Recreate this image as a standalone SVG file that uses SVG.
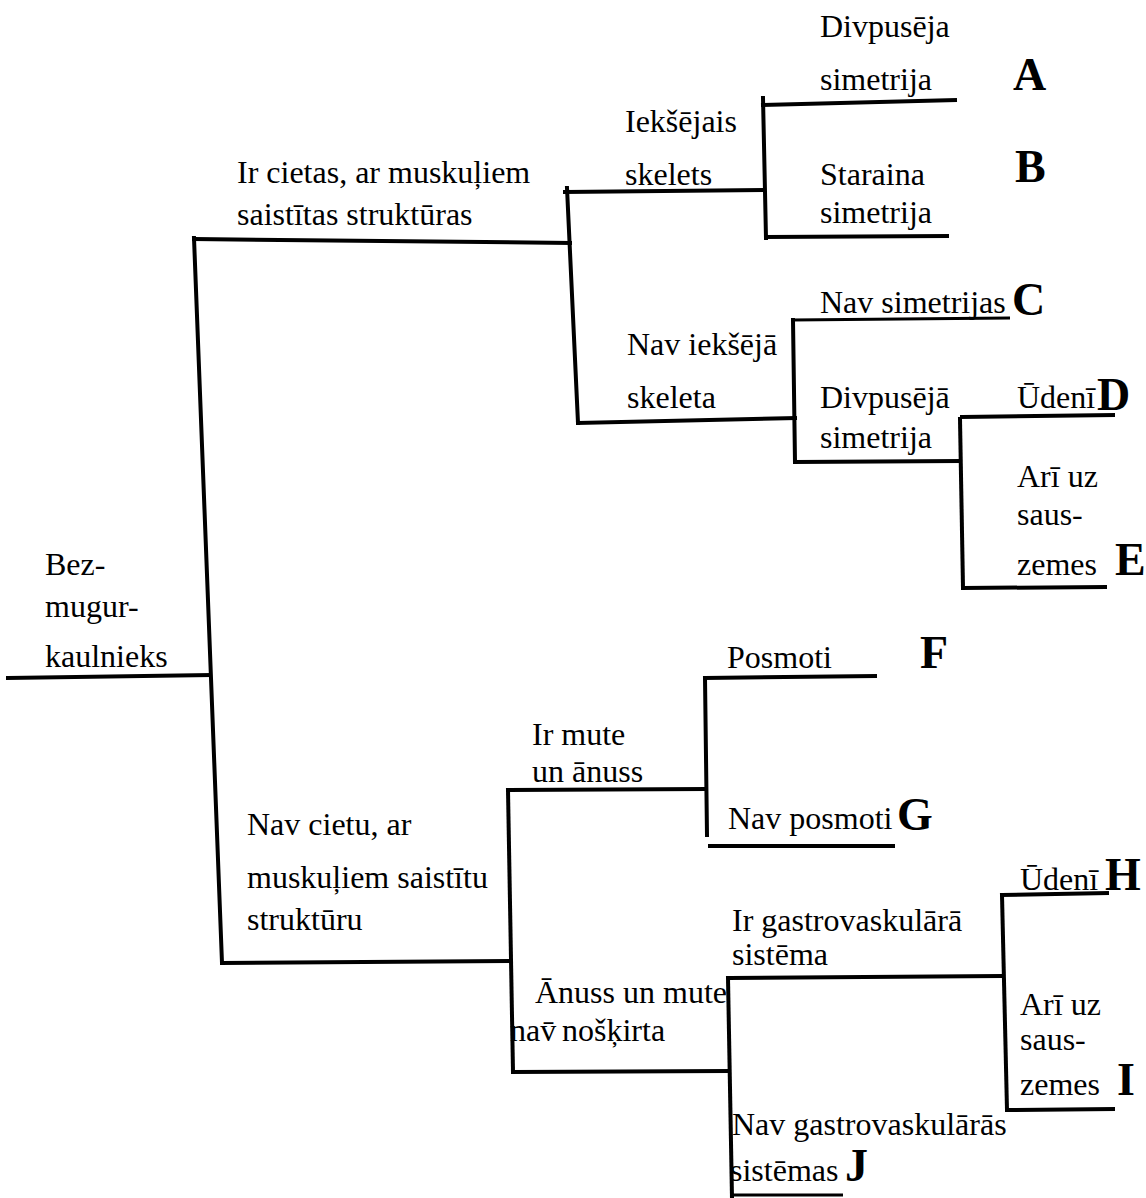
<svg xmlns="http://www.w3.org/2000/svg" width="1146" height="1198" viewBox="0 0 1146 1198">
<style>
  .t { font-family: "Liberation Serif", "Times New Roman", serif; font-size: 32px; fill: #000; }
  .k { font-family: "Liberation Serif", "Times New Roman", serif; font-size: 46px; font-weight: bold; fill: #000; }
  .ln { stroke: #000; stroke-width: 4; fill: none; stroke-linecap: square; stroke-linejoin: miter; }
  .th { stroke: #000; stroke-width: 3; fill: none; }
</style>
<rect x="0" y="0" width="1146" height="1198" fill="#fff"/>

<g id="connectors">
  <path class="ln" d="M8,678 L210,675"/>
  <path class="ln" d="M194,238 L222,963"/>
  <path class="ln" d="M194,239 L570,243"/>
  <path class="ln" d="M222,963 L508,961"/>
  <path class="ln" d="M567,188 L578,423"/>
  <path class="ln" d="M565,192 L763,190"/>
  <path class="ln" d="M763,98 L766,238"/>
  <path class="ln" d="M763,105 L955,100"/>
  <path class="ln" d="M766,237 L947,236"/>
  <path class="ln" d="M578,423 L795,418"/>
  <path class="ln" d="M793,320 L795,462"/>
  <path class="th" d="M792,320 L1010,318"/>
  <path class="ln" d="M795,462 L960,461"/>
  <path class="ln" d="M960,419 L963,588"/>
  <path class="ln" d="M962,417 L1113,415"/>
  <path class="ln" d="M963,588 L1105,587"/>
  <path class="ln" d="M508,790 L705,789"/>
  <path class="ln" d="M508,790 L513,1072"/>
  <path class="ln" d="M513,1072 L728,1071"/>
  <path class="ln" d="M705,678 L707,835"/>
  <path class="ln" d="M705,678 L875,676"/>
  <path class="ln" d="M710,846 L893,846"/>
  <path class="ln" d="M728,978 L732,1198"/>
  <path class="ln" d="M730,978 L1000,976"/>
  <path class="ln" d="M1002,895 L1007,1110"/>
  <path class="ln" d="M1002,895 L1107,893"/>
  <path class="ln" d="M1007,1110 L1113,1109"/>
  <path class="th" d="M730,1195 L843,1195"/>
</g>

<g id="root">
  <text class="t" x="45" y="575">Bez-</text>
  <text class="t" x="45" y="617">mugur-</text>
  <text class="t" x="45" y="667">kaulnieks</text>
</g>
<g id="n-cietas">
  <text class="t" x="237" y="183">Ir cietas, ar muskuļiem</text>
  <text class="t" x="237" y="225">saistītas struktūras</text>
</g>
<g id="n-iekshejais">
  <text class="t" x="625" y="132">Iekšējais</text>
  <text class="t" x="625" y="185">skelets</text>
</g>
<g id="n-divpuseja">
  <text class="t" x="820" y="37">Divpusēja</text>
  <text class="t" x="820" y="90">simetrija</text>
  <text class="k" x="1013" y="90">A</text>
</g>
<g id="n-staraina">
  <text class="t" x="820" y="185">Staraina</text>
  <text class="t" x="820" y="223">simetrija</text>
  <text class="k" x="1015" y="182">B</text>
</g>
<g id="n-nav-ieksheja">
  <text class="t" x="627" y="355">Nav iekšējā</text>
  <text class="t" x="627" y="408">skeleta</text>
</g>
<g id="n-nav-simetrijas">
  <text class="t" x="820" y="313">Nav simetrijas</text>
  <text class="k" x="1012" y="315">C</text>
</g>
<g id="n-divpuseja2">
  <text class="t" x="820" y="408">Divpusējā</text>
  <text class="t" x="820" y="448">simetrija</text>
</g>
<g id="n-udeni-d">
  <text class="t" x="1017" y="408">Ūdenī</text>
  <text class="k" x="1097" y="410">D</text>
</g>
<g id="n-sauszeme-e">
  <text class="t" x="1017" y="487">Arī uz</text>
  <text class="t" x="1017" y="525">saus-</text>
  <text class="t" x="1017" y="575">zemes</text>
  <text class="k" x="1115" y="575">E</text>
</g>
<g id="n-nav-cietu">
  <text class="t" x="247" y="835">Nav cietu, ar</text>
  <text class="t" x="247" y="888">muskuļiem saistītu</text>
  <text class="t" x="247" y="930">struktūru</text>
</g>
<g id="n-ir-mute">
  <text class="t" x="532" y="745">Ir mute</text>
  <text class="t" x="532" y="782">un ānuss</text>
</g>
<g id="n-posmoti">
  <text class="t" x="727" y="668">Posmoti</text>
  <text class="k" x="920" y="668">F</text>
</g>
<g id="n-nav-posmoti">
  <text class="t" x="728" y="829">Nav posmoti</text>
  <text class="k" x="897" y="830">G</text>
</g>
<g id="n-anuss">
  <text class="t" x="535" y="1003">Ānuss un mute</text>
  <text class="t" x="510" y="1041">nav̄</text>
  <text class="t" x="562" y="1041">nošķirta</text>
</g>
<g id="n-ir-gastro">
  <text class="t" x="732" y="931">Ir gastrovaskulārā</text>
  <text class="t" x="732" y="965">sistēma</text>
</g>
<g id="n-udeni-h">
  <text class="t" x="1020" y="890">Ūdenī</text>
  <text class="k" x="1105" y="890">H</text>
</g>
<g id="n-sauszeme-i">
  <text class="t" x="1020" y="1015">Arī uz</text>
  <text class="t" x="1020" y="1050">saus-</text>
  <text class="t" x="1020" y="1095">zemes</text>
  <text class="k" x="1117" y="1095">I</text>
</g>
<g id="n-nav-gastro">
  <text class="t" x="732" y="1135">Nav gastrovaskulārās</text>
  <text class="t" x="730" y="1181">sistēmas</text>
  <text class="k" x="845" y="1181">J</text>
</g>
</svg>
